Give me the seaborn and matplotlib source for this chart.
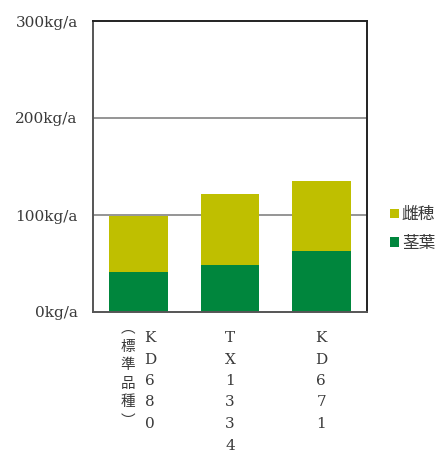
import matplotlib
matplotlib.use("Agg")
import matplotlib.pyplot as plt
from matplotlib.patches import Patch
import seaborn as sns

# Yield per variety (kg/a), split into stems/leaves and ears
varieties = ["KD680", "TX1334", "KD671"]
notes = ["︵標準品種︶", "", ""]
stem_leaf = [41, 48, 63]   # 茎葉
ear = [58, 74, 72]         # 雌穂
total = [s + e for s, e in zip(stem_leaf, ear)]
y_ticks = [0, 100, 200, 300]
y_tick_labels = ["0kg/a", "100kg/a", "200kg/a", "300kg/a"]
series_names = ["雌穂", "茎葉"]

EAR_COLOR = "#BFBF00"
STEM_COLOR = "#00863D"
TEXT_COLOR = "#3a3a3a"

sns.set_theme(style="white")
plt.rcParams["font.family"] = ["DejaVu Serif", "Noto Sans CJK JP"]

fig = plt.figure(figsize=(4.40, 4.53), dpi=100)
ax = fig.add_axes([93 / 440, 141 / 453, 274 / 440, 291 / 453])

# stacked bars: full height in ear colour, stem/leaf portion drawn over it
sns.barplot(x=varieties, y=total, color=EAR_COLOR, saturation=1, width=0.64,
            ax=ax, edgecolor="none", linewidth=0)
sns.barplot(x=varieties, y=stem_leaf, color=STEM_COLOR, saturation=1, width=0.64,
            ax=ax, edgecolor="none", linewidth=0)

ax.set_xlim(-0.5, 2.5)
ax.set_ylim(0, 300)
ax.set_yticks(y_ticks)
ax.set_yticklabels(y_tick_labels, fontsize=11, color=TEXT_COLOR)
ax.tick_params(axis="y", length=0, pad=11)
ax.set_xticks(range(len(varieties)))
ax.set_xticklabels([""] * len(varieties))
ax.tick_params(axis="x", length=0)
ax.set_xlabel("")
ax.set_ylabel("")

for val in y_ticks[1:3]:
    ax.axhline(val, color="#8c8c8c", lw=1.3, zorder=0)

for side in ["top", "right"]:
    ax.spines[side].set_color("#222222")
    ax.spines[side].set_linewidth(1.4)
for side in ["left", "bottom"]:
    ax.spines[side].set_color("#555555")
    ax.spines[side].set_linewidth(1.4)

# vertical category labels, one character per row
def vertical_label(x, text, start, step, size):
    for k, ch in enumerate(text):
        ax.annotate(ch, xy=(x, 0), xycoords=("data", "axes fraction"),
                    xytext=(0, -(start + k * step)), textcoords="offset pixels",
                    ha="center", va="center", fontsize=size, color=TEXT_COLOR,
                    annotation_clip=False)

for i, (name, note) in enumerate(zip(varieties, notes)):
    if note:
        vertical_label(i - 0.115, note, 16, 18.6, 10.5)
        vertical_label(i + 0.125, name, 26, 21.5, 11)
    else:
        vertical_label(i, name, 26, 21.5, 11)

handles = [Patch(facecolor=EAR_COLOR, edgecolor="none"),
           Patch(facecolor=STEM_COLOR, edgecolor="none")]
leg = ax.legend(handles, series_names, loc="center left",
                bbox_to_anchor=(1.085, 0.285), frameon=False, borderpad=0,
                borderaxespad=0, handlelength=0.5, handleheight=0.5,
                handletextpad=0.2, labelspacing=0.7, fontsize=12)
for t in leg.get_texts():
    t.set_color(TEXT_COLOR)

fig.savefig("out.png", dpi=100, facecolor="white")
